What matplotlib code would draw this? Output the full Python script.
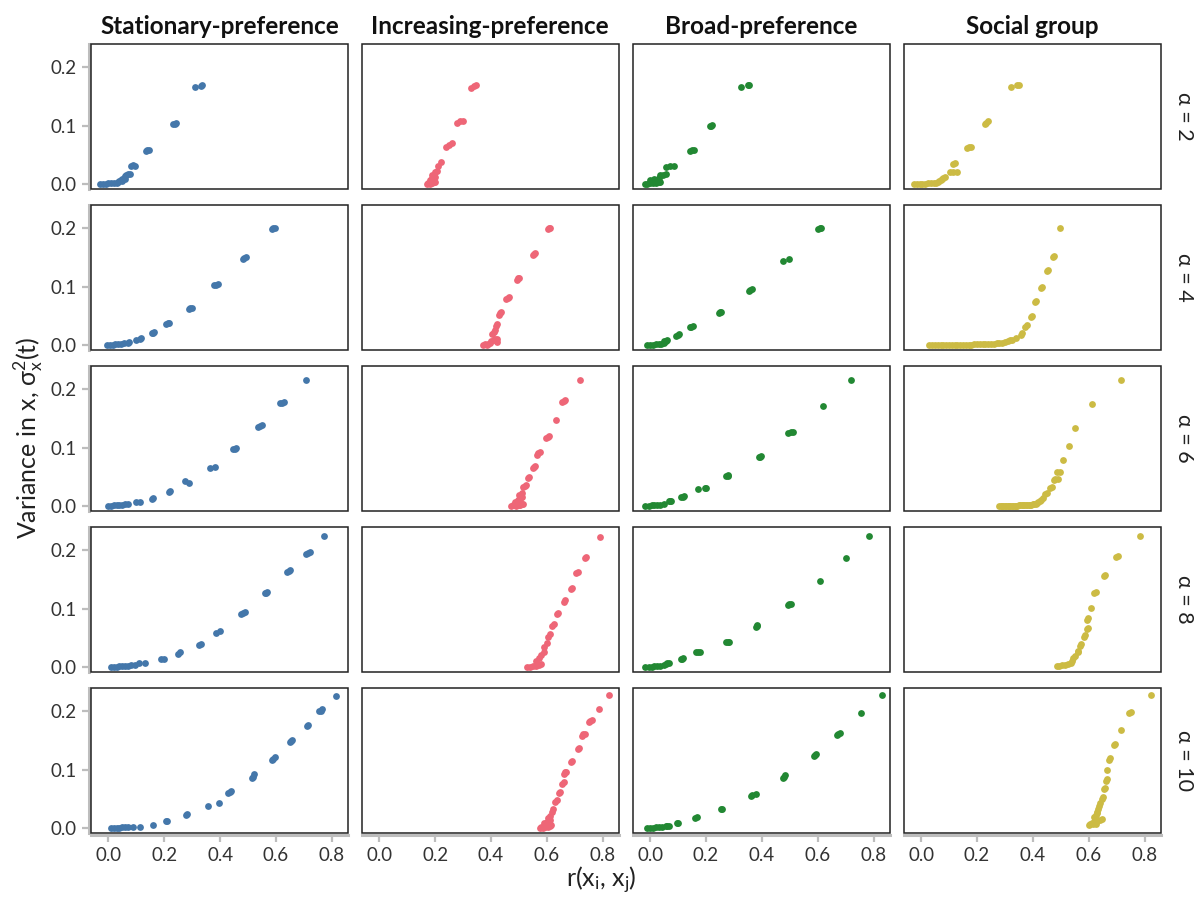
import matplotlib
matplotlib.use("Agg")
import matplotlib.pyplot as plt
from matplotlib.patches import Rectangle

plt.rcParams["font.family"] = ["Lato", "DejaVu Sans"]
plt.rcParams["mathtext.fontset"] = "custom"
plt.rcParams["mathtext.rm"] = "Lato"
plt.rcParams["mathtext.it"] = "Lato:italic"

# panel titles and row labels
columns = ["Stationary-preference", "Increasing-preference", "Broad-preference", "Social group"]
alphas = [2, 4, 6, 8, 10]
colors = ["#4477AA", "#EE6677", "#228833", "#CCBB44"]

# Stationary-preference: one list per alpha row
stat_r = [
    [-0.03, -0.02, -0.01, 0.0, 0.01, 0.02, 0.03, 0.035, 0.04, 0.045, 0.05, 0.055, 0.06, 0.065, 0.07, 0.05, 0.06,
     0.078, 0.08, 0.088, 0.097, 0.135, 0.14, 0.145, 0.232, 0.238, 0.243, 0.312, 0.33, 0.337],
    [-0.004, 0.005, 0.015, 0.025, 0.035, 0.045, 0.055, 0.07, 0.075, 0.10, 0.113, 0.118, 0.155, 0.159, 0.163,
     0.206, 0.213, 0.218, 0.289, 0.294, 0.298, 0.38, 0.386, 0.392, 0.482, 0.487, 0.492, 0.585, 0.591, 0.597],
    [0.0, 0.01, 0.02, 0.03, 0.04, 0.05, 0.06, 0.07, 0.10, 0.113, 0.155, 0.161, 0.216, 0.22, 0.276, 0.287,
     0.364, 0.382, 0.447, 0.452, 0.458, 0.537, 0.543, 0.549, 0.616, 0.622, 0.628, 0.707],
    [0.01, 0.02, 0.03, 0.04, 0.05, 0.06, 0.07, 0.08, 0.095, 0.11, 0.131, 0.189, 0.2, 0.248, 0.255, 0.325, 0.33,
     0.385, 0.40, 0.476, 0.483, 0.49, 0.56, 0.564, 0.567, 0.64, 0.645, 0.65, 0.707, 0.714, 0.72, 0.773],
    [0.01, 0.02, 0.03, 0.04, 0.05, 0.06, 0.07, 0.088, 0.113, 0.161, 0.205, 0.21, 0.278, 0.283, 0.355, 0.397,
     0.43, 0.434, 0.44, 0.515, 0.519, 0.522, 0.585, 0.591, 0.597, 0.651, 0.655, 0.658, 0.71, 0.713,
     0.755, 0.761, 0.765, 0.816],
]
stat_var = [
    [0.0, 0.0, 0.0, 0.001, 0.001, 0.002, 0.002, 0.004, 0.005, 0.007, 0.009, 0.011, 0.013, 0.015, 0.017, 0.005, 0.009,
     0.017, 0.031, 0.032, 0.031, 0.057, 0.058, 0.059, 0.102, 0.103, 0.104, 0.166, 0.168, 0.169],
    [0.0, 0.0, 0.0005, 0.001, 0.0015, 0.002, 0.003, 0.004, 0.005, 0.009, 0.011, 0.012, 0.02, 0.021, 0.022,
     0.036, 0.037, 0.037, 0.062, 0.063, 0.064, 0.102, 0.103, 0.104, 0.148, 0.149, 0.15, 0.199, 0.2, 0.2005],
    [0.0, 0.0, 0.001, 0.001, 0.002, 0.002, 0.003, 0.004, 0.006, 0.007, 0.012, 0.014, 0.024, 0.025, 0.042, 0.04,
     0.065, 0.066, 0.097, 0.098, 0.099, 0.136, 0.137, 0.138, 0.176, 0.177, 0.178, 0.2155],
    [0.0, 0.0, 0.0005, 0.001, 0.001, 0.0015, 0.002, 0.003, 0.004, 0.006, 0.0075, 0.014, 0.014, 0.023, 0.025, 0.038, 0.04,
     0.058, 0.062, 0.09, 0.092, 0.094, 0.126, 0.127, 0.128, 0.162, 0.164, 0.166, 0.193, 0.195, 0.196, 0.224],
    [0.0, 0.0, 0.0, 0.0005, 0.001, 0.001, 0.0015, 0.002, 0.002, 0.0057, 0.012, 0.0126, 0.022, 0.024, 0.037, 0.042,
     0.06, 0.062, 0.064, 0.086, 0.088, 0.092, 0.117, 0.118, 0.121, 0.147, 0.148, 0.15, 0.174, 0.177,
     0.2, 0.201, 0.203, 0.226],
]

# Increasing-preference
incr_r = [
    [0.17, 0.175, 0.18, 0.185, 0.19, 0.195, 0.2, 0.18, 0.19, 0.2, 0.19, 0.2, 0.205, 0.21, 0.22,
     0.24, 0.25, 0.26, 0.28, 0.29, 0.30, 0.33, 0.34, 0.345],
    [0.372, 0.38, 0.385, 0.39, 0.395, 0.40, 0.41, 0.415, 0.42, 0.423, 0.405, 0.411, 0.415, 0.417, 0.42,
     0.428, 0.432, 0.436, 0.455, 0.46, 0.465, 0.492, 0.496, 0.5, 0.55, 0.554, 0.558, 0.603, 0.607, 0.61],
    [0.47, 0.48, 0.49, 0.50, 0.505, 0.51, 0.515, 0.485, 0.495, 0.505, 0.51, 0.5, 0.51, 0.516, 0.52, 0.525,
     0.532, 0.535, 0.55, 0.553, 0.557, 0.565, 0.569, 0.574, 0.598, 0.603, 0.608, 0.633, 0.655, 0.66, 0.665, 0.72],
    [0.53, 0.54, 0.55, 0.56, 0.57, 0.58, 0.56, 0.57, 0.58, 0.59, 0.59, 0.6, 0.605, 0.61, 0.62, 0.625,
     0.635, 0.64, 0.66, 0.665, 0.685, 0.69, 0.705, 0.71, 0.735, 0.74, 0.789],
    [0.575, 0.58, 0.585, 0.59, 0.595, 0.60, 0.605, 0.61, 0.615, 0.59, 0.6, 0.61, 0.605, 0.611, 0.618, 0.623,
     0.63, 0.636, 0.643, 0.648, 0.655, 0.66, 0.662, 0.666, 0.67, 0.685, 0.69, 0.71, 0.714,
     0.725, 0.73, 0.735, 0.752, 0.756, 0.76, 0.786, 0.822],
]
incr_var = [
    [0.0, 0.001, 0.0, 0.002, 0.001, 0.003, 0.004, 0.007, 0.01, 0.012, 0.015, 0.02, 0.022, 0.03, 0.038,
     0.063, 0.067, 0.07, 0.104, 0.107, 0.108, 0.165, 0.168, 0.169],
    [0.0, 0.001, 0.0, 0.002, 0.004, 0.006, 0.008, 0.01, 0.005, 0.011, 0.018, 0.022, 0.025, 0.033, 0.036,
     0.052, 0.054, 0.056, 0.079, 0.081, 0.082, 0.112, 0.114, 0.115, 0.154, 0.156, 0.158, 0.199, 0.2, 0.201],
    [0.0, 0.001, 0.0, 0.002, 0.001, 0.003, 0.004, 0.007, 0.01, 0.012, 0.015, 0.018, 0.022, 0.032, 0.034, 0.036,
     0.048, 0.05, 0.065, 0.067, 0.069, 0.088, 0.09, 0.092, 0.116, 0.118, 0.12, 0.148, 0.178, 0.18, 0.181, 0.2155],
    [0.0, 0.0, 0.002, 0.001, 0.003, 0.005, 0.01, 0.015, 0.02, 0.025, 0.035, 0.041, 0.052, 0.057, 0.07, 0.074,
     0.09, 0.093, 0.112, 0.114, 0.134, 0.136, 0.16, 0.162, 0.186, 0.188, 0.222],
    [0.0, 0.001, 0.0, 0.002, 0.001, 0.003, 0.002, 0.004, 0.005, 0.008, 0.01, 0.013, 0.017, 0.02, 0.028, 0.033,
     0.045, 0.048, 0.059, 0.062, 0.075, 0.078, 0.092, 0.095, 0.096, 0.113, 0.115, 0.135, 0.137,
     0.158, 0.16, 0.161, 0.181, 0.183, 0.184, 0.204, 0.227],
]

# Broad-preference
broad_r = [
    [-0.018, -0.01, 0.0, 0.01, 0.02, 0.03, 0.037, 0.0, 0.015, 0.03, 0.037, 0.045, 0.056, 0.056, 0.07, 0.086,
     0.141, 0.148, 0.156, 0.215, 0.219, 0.222, 0.326, 0.35, 0.353],
    [-0.01, 0.0, 0.01, 0.02, 0.03, 0.04, 0.05, 0.05, 0.056, 0.062, 0.092, 0.098, 0.104, 0.142, 0.147, 0.152,
     0.246, 0.25, 0.254, 0.355, 0.359, 0.363, 0.476, 0.498, 0.602, 0.607, 0.611],
    [-0.017, -0.005, 0.005, 0.015, 0.025, 0.035, 0.05, 0.068, 0.072, 0.076, 0.112, 0.116, 0.12, 0.17, 0.195, 0.201,
     0.273, 0.277, 0.28, 0.388, 0.393, 0.398, 0.495, 0.505, 0.51, 0.617, 0.719],
    [-0.017, -0.005, 0.005, 0.015, 0.025, 0.035, 0.05, 0.058, 0.062, 0.066, 0.11, 0.113, 0.116, 0.165, 0.171, 0.177,
     0.27, 0.277, 0.283, 0.378, 0.381, 0.384, 0.492, 0.498, 0.503, 0.607, 0.702, 0.785],
    [-0.011, 0.0, 0.01, 0.02, 0.03, 0.044, 0.056, 0.062, 0.068, 0.095, 0.1, 0.162, 0.168, 0.252, 0.256,
     0.36, 0.365, 0.38, 0.476, 0.48, 0.484, 0.585, 0.589, 0.593, 0.67, 0.674, 0.678, 0.753, 0.828],
]
broad_var = [
    [0.0, 0.0, 0.001, 0.001, 0.002, 0.003, 0.004, 0.006, 0.008, 0.01, 0.015, 0.016, 0.017, 0.029, 0.03, 0.031,
     0.057, 0.058, 0.059, 0.099, 0.1, 0.101, 0.166, 0.169, 0.17],
    [0.0, 0.0, 0.0, 0.001, 0.001, 0.002, 0.003, 0.006, 0.007, 0.008, 0.016, 0.017, 0.018, 0.03, 0.031, 0.032,
     0.055, 0.056, 0.057, 0.093, 0.094, 0.095, 0.144, 0.148, 0.199, 0.2, 0.201],
    [0.0, 0.0, 0.001, 0.001, 0.002, 0.002, 0.004, 0.008, 0.009, 0.009, 0.016, 0.016, 0.017, 0.029, 0.03, 0.031,
     0.051, 0.052, 0.053, 0.083, 0.084, 0.085, 0.125, 0.126, 0.126, 0.171, 0.2155],
    [0.0, 0.0, 0.0, 0.001, 0.001, 0.002, 0.003, 0.005, 0.006, 0.007, 0.013, 0.014, 0.015, 0.025, 0.025, 0.025,
     0.043, 0.043, 0.043, 0.069, 0.07, 0.071, 0.106, 0.107, 0.108, 0.147, 0.187, 0.224],
    [0.0, 0.0, 0.0005, 0.001, 0.001, 0.002, 0.003, 0.004, 0.004, 0.008, 0.009, 0.017, 0.018, 0.032, 0.033,
     0.055, 0.056, 0.058, 0.086, 0.088, 0.09, 0.123, 0.125, 0.127, 0.159, 0.161, 0.163, 0.197, 0.2276],
]

# Social group
social_r = [
    [-0.025, -0.015, -0.005, 0.005, 0.015, 0.025, 0.035, 0.045, 0.055, 0.06, 0.065, 0.07, 0.075, 0.08, 0.085,
     0.105, 0.115, 0.127, 0.115, 0.122, 0.164, 0.172, 0.18, 0.228, 0.233, 0.238, 0.321, 0.345, 0.349],
    [0.03, 0.04, 0.05, 0.06, 0.07, 0.08, 0.09, 0.10, 0.11, 0.12, 0.13, 0.14, 0.15, 0.16, 0.17, 0.18, 0.19,
     0.20, 0.21, 0.22, 0.23, 0.24, 0.25, 0.26, 0.27, 0.28, 0.29, 0.30, 0.31, 0.32, 0.327, 0.34,
     0.356, 0.36, 0.371, 0.38, 0.393, 0.398, 0.407, 0.412, 0.429, 0.432, 0.452, 0.455, 0.473, 0.476, 0.498],
    [0.279, 0.285, 0.29, 0.295, 0.30, 0.305, 0.31, 0.315, 0.32, 0.325, 0.33, 0.335, 0.34, 0.345, 0.35, 0.355,
     0.36, 0.365, 0.37, 0.375, 0.38, 0.385, 0.39, 0.395, 0.40, 0.405, 0.41, 0.415, 0.42, 0.424, 0.43, 0.436,
     0.445, 0.449, 0.46, 0.467, 0.475, 0.479, 0.49, 0.485, 0.497, 0.509, 0.531, 0.552, 0.612, 0.717],
    [0.485, 0.495, 0.505, 0.515, 0.525, 0.535, 0.54, 0.545, 0.55, 0.56, 0.563, 0.57, 0.573, 0.584, 0.587,
     0.594, 0.597, 0.594, 0.598, 0.608, 0.618, 0.625, 0.655, 0.66, 0.699, 0.705, 0.782],
    [0.6, 0.605, 0.61, 0.615, 0.62, 0.625, 0.63, 0.64, 0.648, 0.62, 0.625, 0.63, 0.63, 0.634, 0.636, 0.64,
     0.648, 0.651, 0.655, 0.658, 0.661, 0.664, 0.667, 0.673, 0.676, 0.691, 0.695, 0.715, 0.745, 0.75, 0.824],
]
social_var = [
    [0.0, 0.0, 0.0, 0.0, 0.0005, 0.001, 0.001, 0.002, 0.002, 0.004, 0.005, 0.006, 0.008, 0.01, 0.012,
     0.021, 0.021, 0.021, 0.035, 0.036, 0.062, 0.063, 0.063, 0.103, 0.105, 0.107, 0.166, 0.169, 0.17],
    [0.0, 0.0, 0.0, 0.0, 0.0, 0.0, 0.0, 0.0, 0.0, 0.0, 0.0, 0.0, 0.0005, 0.0005, 0.0005, 0.0005, 0.001,
     0.001, 0.001, 0.001, 0.0015, 0.0015, 0.002, 0.002, 0.003, 0.003, 0.004, 0.005, 0.006, 0.008, 0.009, 0.012,
     0.017, 0.02, 0.031, 0.035, 0.048, 0.05, 0.074, 0.076, 0.097, 0.099, 0.127, 0.129, 0.151, 0.153, 0.2],
    [0.0, 0.0, 0.0, 0.0, 0.0, 0.0, 0.0, 0.0, 0.0, 0.0, 0.0005, 0.0005, 0.0005, 0.0005, 0.001, 0.001,
     0.001, 0.001, 0.0015, 0.0015, 0.002, 0.002, 0.002, 0.0025, 0.003, 0.003, 0.004, 0.005, 0.006, 0.008, 0.01, 0.014,
     0.02, 0.023, 0.03, 0.033, 0.044, 0.046, 0.046, 0.059, 0.059, 0.079, 0.102, 0.133, 0.174, 0.2155],
    [0.002, 0.002, 0.003, 0.004, 0.005, 0.007, 0.01, 0.015, 0.018, 0.025, 0.028, 0.036, 0.04, 0.051, 0.054,
     0.065, 0.067, 0.081, 0.083, 0.101, 0.126, 0.128, 0.156, 0.158, 0.188, 0.19, 0.224],
    [0.005, 0.006, 0.008, 0.006, 0.01, 0.007, 0.012, 0.014, 0.016, 0.019, 0.022, 0.025, 0.028, 0.033, 0.038, 0.042,
     0.05, 0.053, 0.066, 0.069, 0.08, 0.083, 0.099, 0.117, 0.119, 0.142, 0.144, 0.168, 0.196, 0.198, 0.2276],
]

all_r = [stat_r, incr_r, broad_r, social_r]
all_var = [stat_var, incr_var, broad_var, social_var]

fig, axes = plt.subplots(5, 4, figsize=(12.02, 9.05), dpi=100, sharex=True, sharey=True)
fig.subplots_adjust(left=0.0757, right=0.9655, top=0.9514, bottom=0.0796, wspace=0.055, hspace=0.11)

axis_grey = "#BDBDBD"
for i in range(5):
    for j in range(4):
        ax = axes[i, j]
        ax.scatter(all_r[j][i], all_var[j][i], s=24, color=colors[j], linewidths=0, zorder=3)
        ax.set_xlim(-0.062, 0.857)
        ax.set_ylim(-0.0086, 0.2397)
        ax.set_xticks([0.0, 0.2, 0.4, 0.6, 0.8])
        ax.set_yticks([0.0, 0.1, 0.2])
        for s in ax.spines.values():
            s.set_visible(False)
        ax.add_patch(Rectangle((0, 0), 1, 1, transform=ax.transAxes, fill=False,
                               edgecolor="#222222", linewidth=1.1, zorder=5, clip_on=False))
        ax.tick_params(colors=axis_grey, labelcolor="#333333", labelsize=13.5, length=5, width=1.6)
        if j == 0:
            ax.spines["left"].set_visible(True)
            ax.spines["left"].set_color(axis_grey)
            ax.spines["left"].set_linewidth(2.2)
            ax.spines["left"].set_position(("outward", 1.5))
        else:
            ax.tick_params(left=False)
        if i == 4:
            ax.spines["bottom"].set_visible(True)
            ax.spines["bottom"].set_color(axis_grey)
            ax.spines["bottom"].set_linewidth(2.2)
            ax.spines["bottom"].set_position(("outward", 1.5))
        else:
            ax.tick_params(bottom=False)
        if i == 0:
            ax.set_title(columns[j], fontsize=17.5, fontweight="bold", pad=7, color="#111111")
        if j == 3:
            ax.text(1.09, 0.5, f"α = {alphas[i]}", transform=ax.transAxes, rotation=270,
                    ha="center", va="center", fontsize=15.5, color="#222222")

fig.text(0.5, 0.01, r"r($\mathregular{x_i}$, $\mathregular{x_j}$)", ha="center", va="bottom",
         fontsize=18, color="#222222")
fig.text(0.01, 0.516, r"Variance in x, $\mathregular{\sigma^2_x(t)}$", rotation=90, ha="left",
         va="center", fontsize=18, color="#222222")

fig.savefig("out.png", dpi=100)
